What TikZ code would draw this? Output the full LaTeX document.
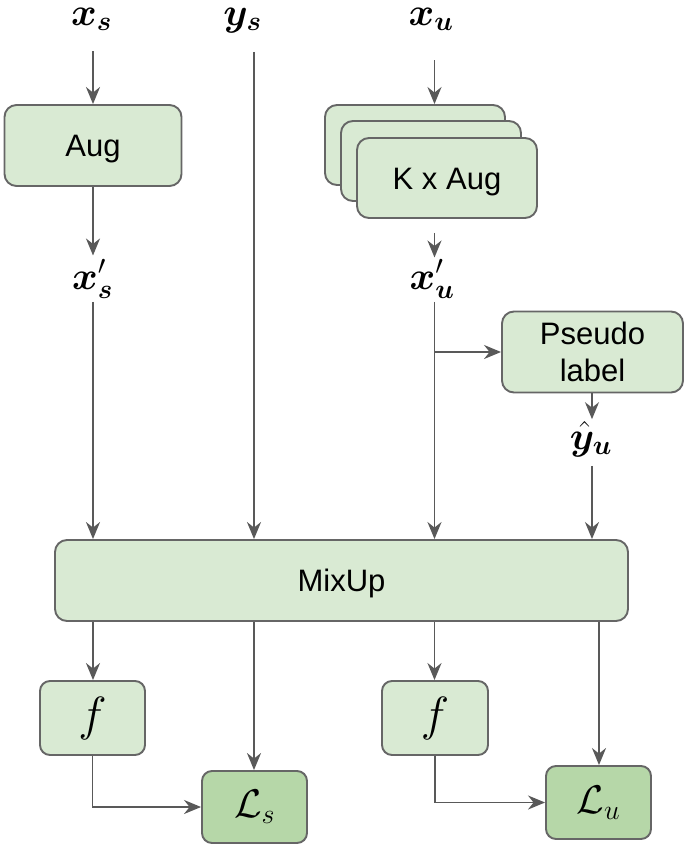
\RequirePackage{fix-cm}
\documentclass[tikz,border=0pt]{standalone}
\usepackage{amsmath}
\usepackage{bm}
\usepackage{fontspec}
\setmainfont{Liberation Sans}
\usetikzlibrary{arrows.meta}
\definecolor{boxfill}{HTML}{D9EAD3}
\definecolor{lossfill}{HTML}{B6D7A8}
\definecolor{edgec}{HTML}{666666}
\definecolor{linec}{HTML}{595959}
\begin{document}
\begin{tikzpicture}[x=1pt,y=-1pt,
  box/.style={draw=edgec, fill=boxfill, line width=1.9pt, rounded corners=12pt,
    inner sep=0pt, align=center, font=\fontsize{31}{37}\selectfont},
  onebox/.style={box, text height=22pt, text depth=0pt},
  lossbox/.style={box, fill=lossfill, rounded corners=10pt},
  mathlbl/.style={inner sep=0pt, anchor=base, font=\fontsize{39}{41}\selectfont},
  arr/.style={draw=linec, line width=1.8pt, -{Stealth[length=17pt,width=14pt,inset=5.5pt]}},
  ln/.style={draw=linec, line width=1.8pt}]
\useasboundingbox (0,0) rectangle (685,847);

% column coordinates
\coordinate (c1) at (93,0);
\coordinate (c2) at (254,0);
\coordinate (c3) at (434.5,0);
\coordinate (c4) at (592,0);
\coordinate (c5) at (599,0);

% boxes
\node[onebox, minimum width=177pt, minimum height=81pt] (aug) at (93,145.5) {Aug};
\node[box, minimum width=180pt, minimum height=80pt] (kb) at (415,145) {};
\node[box, minimum width=180pt, minimum height=80pt] (km) at (431,161) {};
\node[onebox, minimum width=180pt, minimum height=80pt] (kf) at (447,178) {K x Aug};
\node[box, minimum width=181pt, minimum height=81pt] (pl) at (592.5,352) {Pseudo\\label};
\node[onebox, minimum width=573pt, minimum height=81pt] (mix) at (341.5,580.5) {MixUp};
\node[box, minimum width=105pt, minimum height=74pt, rounded corners=10pt,
  font=\fontsize{48}{50}\selectfont] (f1) at (92.5,718) {$f$};
\node[box, minimum width=106pt, minimum height=74pt, rounded corners=10pt,
  font=\fontsize{48}{50}\selectfont] (f2) at (435,718) {$f$};
\node[lossbox, minimum width=105pt, minimum height=72pt,
  font=\fontsize{40}{42}\selectfont] (ls) at (254.5,807) {$\mathcal{L}_s$};
\node[lossbox, minimum width=105pt, minimum height=73pt,
  font=\fontsize{40}{42}\selectfont] (lu) at (598.5,802.5) {$\mathcal{L}_u$};

% math labels
\node[mathlbl] (xs) at (91.5,25) {$\bm{x}_{\bm{s}}$};
\node[mathlbl] (ys) at (242.5,25) {$\bm{y}_{\bm{s}}$};
\node[mathlbl] (xu) at (431,25) {$\bm{x}_{\bm{u}}$};
\node[mathlbl] (xsp) at (92.5,289) {$\bm{x}'_{\bm{s}}$};
\node[mathlbl] (xup) at (432,289) {$\bm{x}'_{\bm{u}}$};
\node[mathlbl] (yh) at (591,449) {$\hat{\bm{y}}_{\bm{u}}$};

% connectors
\draw[arr, shorten <=20pt] (c1 |- xs.south) -- (c1 |- aug.north);
\draw[arr, shorten >=4pt] (c1 |- aug.south) -- (c1 |- xsp.north);
\draw[arr, shorten <=3pt] (c1 |- xsp.south) -- (c1 |- mix.north);
\draw[arr, shorten <=19pt] (c2 |- ys.south) -- (c2 |- mix.north);
\draw[arr, shorten <=29pt] (c3 |- xu.south) -- (c3 |- kb.north);
\draw[arr, shorten <=14pt, shorten >=2pt] (c3 |- kf.south) -- (c3 |- xup.north);
\draw[arr, shorten <=3pt] (c3 |- xup.south) -- (c3 |- mix.north);
\draw[arr] (c3 |- pl.west) -- (pl.west);
\draw[arr, shorten >=2pt] (c4 |- pl.south) -- (c4 |- yh.north);
\draw[arr, shorten <=9pt] (c4 |- yh.south) -- (c4 |- mix.north);
\draw[arr] (c1 |- mix.south) -- (c1 |- f1.north);
\draw[arr] (c2 |- mix.south) -- (c2 |- ls.north);
\draw[arr] (c3 |- mix.south) -- (c3 |- f2.north);
\draw[arr] (c5 |- mix.south) -- (c5 |- lu.north);
\draw[arr] (f1.south) |- (ls.west);
\draw[arr] (f2.south) |- (lu.west);
\end{tikzpicture}
\end{document}
